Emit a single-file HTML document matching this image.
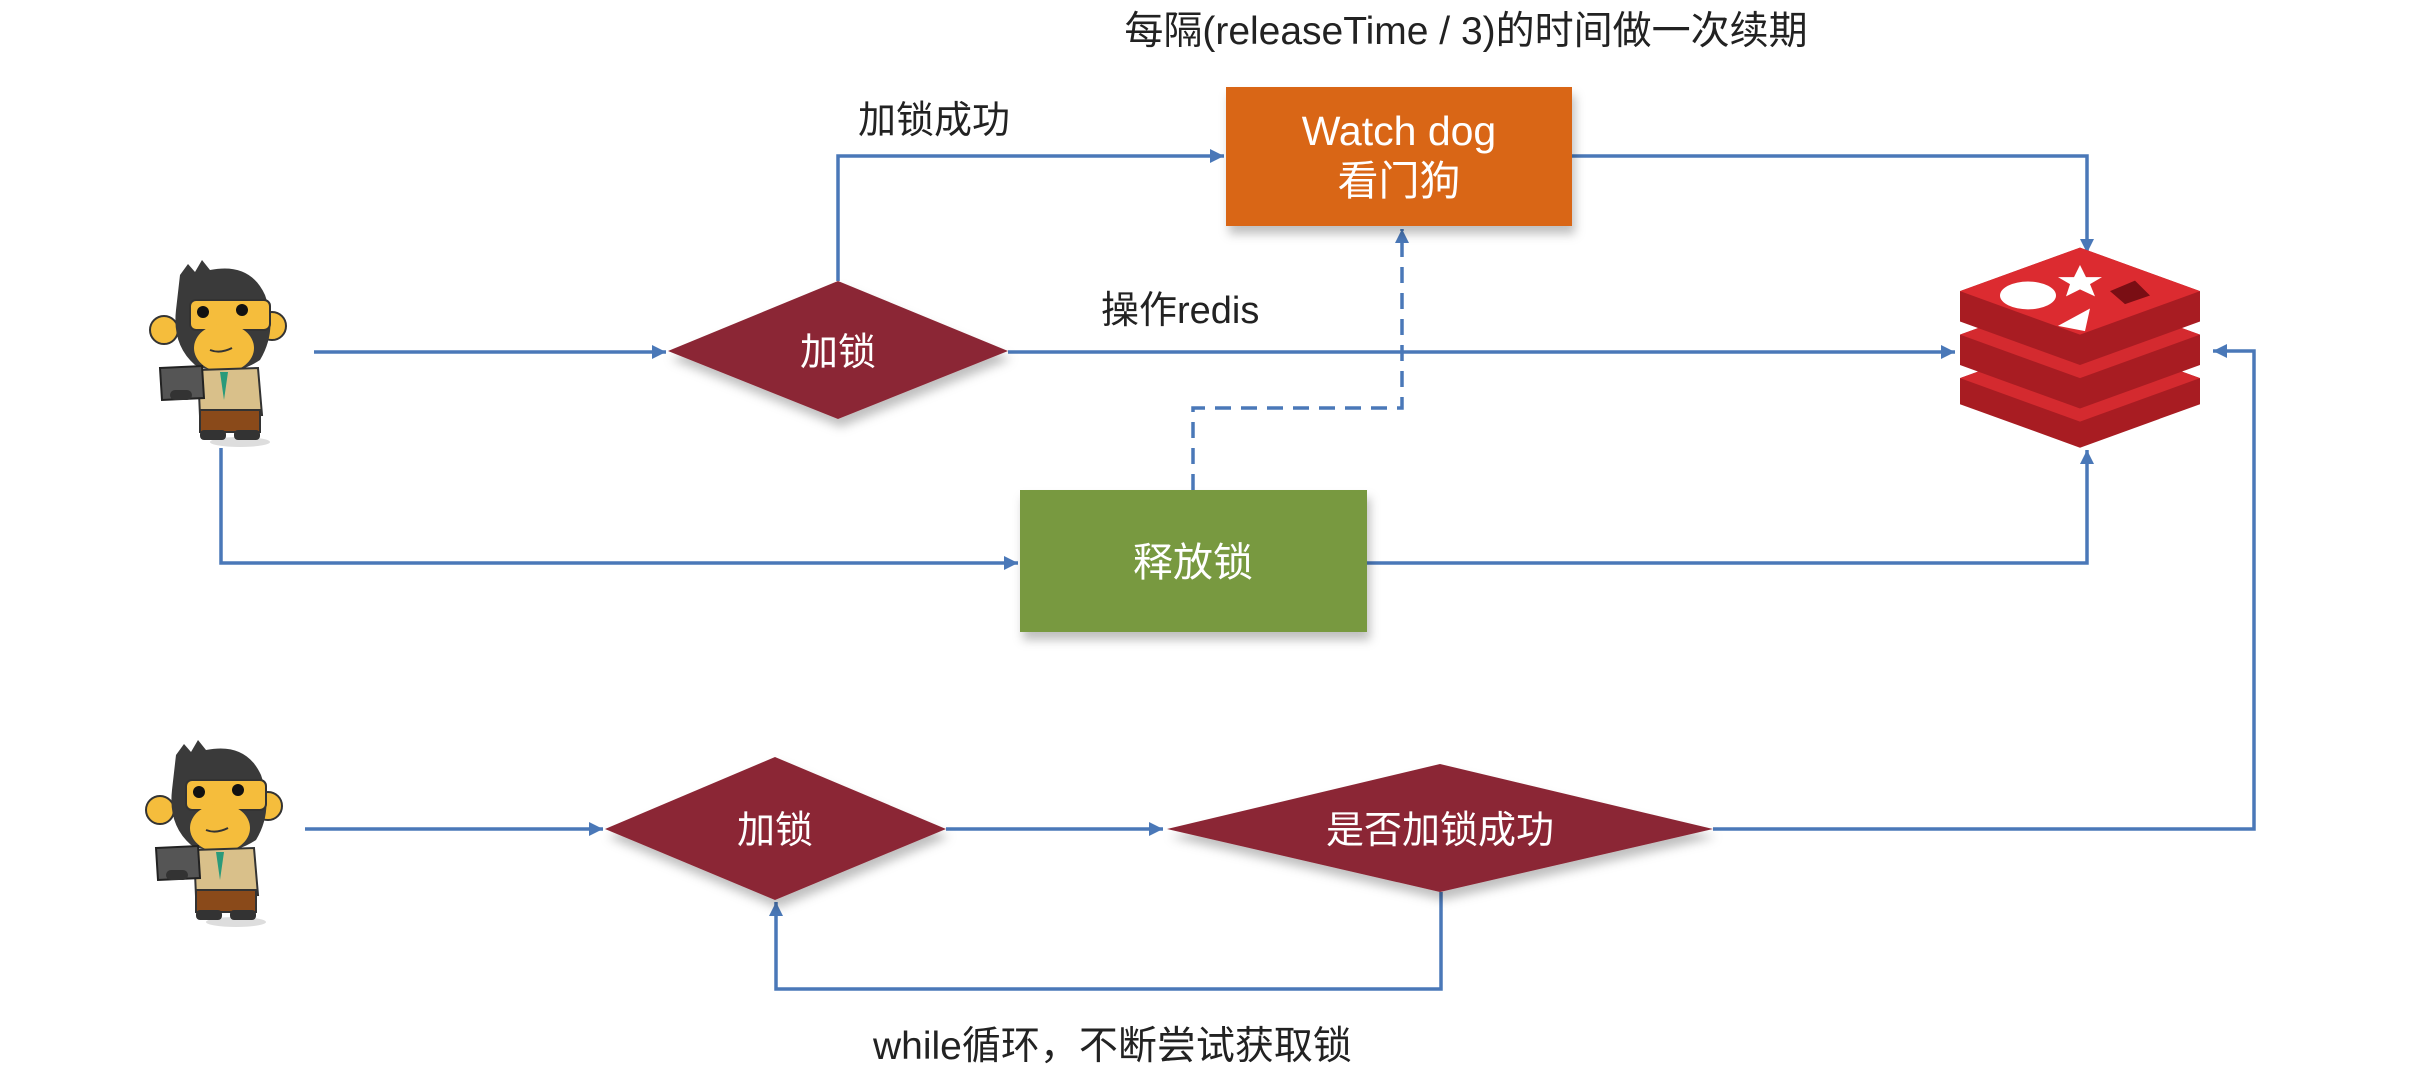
<!DOCTYPE html>
<html><head><meta charset="utf-8"><style>
html,body{margin:0;padding:0;background:#fff;}
svg{display:block;}
text{font-family:"Liberation Sans","Noto Sans CJK SC",sans-serif;}
</style></head><body>
<svg width="2424" height="1084" viewBox="0 0 2424 1084" xmlns="http://www.w3.org/2000/svg">
<defs>
<marker id="a" viewBox="0 0 10 10" refX="10" refY="5" markerWidth="14" markerHeight="14" orient="auto" markerUnits="userSpaceOnUse">
<path d="M0,0 L10,5 L0,10 z" fill="#4a78b8"/>
</marker>
<g id="monkey">
<ellipse cx="100" cy="192" rx="30" ry="5" fill="#ddd"/>
<circle cx="24" cy="80" r="14" fill="#f5bd3c" stroke="#333" stroke-width="2"/>
<circle cx="132" cy="76" r="14" fill="#f5bd3c" stroke="#333" stroke-width="2"/>
<path d="M40,25 L48,14 L55,22 L62,10 L70,20 Q110,12 125,45 Q138,80 120,110 Q90,130 55,115 Q32,95 36,60 Z" fill="#3a3a3a"/>
<rect x="50" y="50" width="80" height="30" rx="6" fill="#f5bd3c" stroke="#333" stroke-width="2"/>
<circle cx="63" cy="62" r="6" fill="#111"/><circle cx="102" cy="60" r="6" fill="#111"/>
<ellipse cx="84" cy="98" rx="30" ry="24" fill="#f5bd3c"/>
<path d="M70,100 Q80,104 92,98" stroke="#333" stroke-width="2" fill="none"/>
<path d="M58,120 L118,118 L122,165 L60,166 Z" fill="#d9c08a" stroke="#333" stroke-width="2"/>
<path d="M80,122 L84,150 L88,122 Z" fill="#2a9a7a"/>
<rect x="60" y="160" width="60" height="22" fill="#8a4a1a" stroke="#333" stroke-width="2"/>
<rect x="60" y="180" width="26" height="10" rx="4" fill="#333"/><rect x="94" y="180" width="26" height="10" rx="4" fill="#333"/>
<path d="M20,118 L62,116 L64,148 L22,150 Z" fill="#555" stroke="#222" stroke-width="2"/>
<rect x="30" y="140" width="22" height="10" rx="5" fill="#333"/>
</g>
<filter id="sh" x="-10%" y="-10%" width="130%" height="140%"><feDropShadow dx="3" dy="8" stdDeviation="5" flood-color="#000" flood-opacity="0.25"/></filter>
</defs>

<text x="1466" y="44" font-size="39" text-anchor="middle" fill="#222">每隔(releaseTime / 3)的时间做一次续期</text>

<g fill="none" stroke="#4a78b8" stroke-width="3.5">
<polyline points="838,281 838,156 1224,156" marker-end="url(#a)"/>
<polyline points="1572,156 2087,156 2087,253" marker-end="url(#a)"/>
<line x1="314" y1="352" x2="666" y2="352" marker-end="url(#a)"/>
<line x1="1008" y1="352" x2="1955" y2="352" marker-end="url(#a)"/>
<polyline points="221,448 221,563 1018,563" marker-end="url(#a)"/>
<polyline points="1367,563 2087,563 2087,450" marker-end="url(#a)"/>
<polyline points="1193,490 1193,408 1402,408 1402,229" stroke-dasharray="16,10" marker-end="url(#a)"/>
<polyline points="1713,829 2254,829 2254,351 2213,351" marker-end="url(#a)"/>
<line x1="305" y1="829" x2="603" y2="829" marker-end="url(#a)"/>
<line x1="946" y1="829" x2="1163" y2="829" marker-end="url(#a)"/>
<polyline points="1441,892 1441,989 776,989 776,902" marker-end="url(#a)"/>
</g>

<rect x="1226" y="87" width="346" height="139" fill="#d96616" filter="url(#sh)"/>
<text x="1399" y="145" font-size="41" text-anchor="middle" fill="#fff">Watch dog</text>
<text x="1399" y="195" font-size="41" text-anchor="middle" fill="#fff">看门狗</text>

<text x="858" y="133" font-size="38" fill="#222">加锁成功</text>
<text x="1101" y="323" font-size="38" fill="#222">操作redis</text>

<polygon points="668,351 838,281 1008,351 838,419" fill="#8b2836" filter="url(#sh)"/>
<text x="838" y="365" font-size="38" text-anchor="middle" fill="#fff">加锁</text>

<rect x="1020" y="490" width="347" height="142" fill="#78993f" filter="url(#sh)"/>
<text x="1193" y="576" font-size="40" text-anchor="middle" fill="#fff">释放锁</text>

<polygon points="605,829 775,757 946,829 775,900" fill="#8b2836" filter="url(#sh)"/>
<text x="775" y="843" font-size="38" text-anchor="middle" fill="#fff">加锁</text>

<polygon points="1167,829 1440,764 1713,829 1440,892" fill="#8b2836" filter="url(#sh)"/>
<text x="1440" y="843" font-size="38" text-anchor="middle" fill="#fff">是否加锁成功</text>

<text x="873" y="1059" font-size="39" fill="#222">while循环，不断尝试获取锁</text>

<g transform="translate(1960,265) scale(1,0.87)">
<polygon points="0,130 120,80 240,130 240,160 120,210 0,160" fill="#a81c22"/>
<polygon points="0,130 120,180 240,130 120,80" fill="#d42a2f"/>
<polygon points="0,80 120,30 240,80 240,115 120,165 0,115" fill="#a81c22"/>
<polygon points="0,80 120,130 240,80 120,30" fill="#d42a2f"/>
<polygon points="0,30 120,-20 240,30 240,65 120,115 0,65" fill="#a81c22"/>
<polygon points="0,30 120,80 240,30 120,-20" fill="#dc2b30"/>
<ellipse cx="68" cy="35" rx="28" ry="16" fill="#fff"/>
<polygon points="120,0 126,14 142,14 130,22 135,36 120,28 106,36 110,22 98,14 114,14" fill="#fff"/>
<polygon points="98,70 130,50 125,76" fill="#fff"/>
<polygon points="150,30 175,18 190,35 165,45" fill="#7a0e14"/>
</g>

<use href="#monkey" x="140" y="250"/>
<use href="#monkey" x="136" y="730"/>
</svg>
</body></html>
